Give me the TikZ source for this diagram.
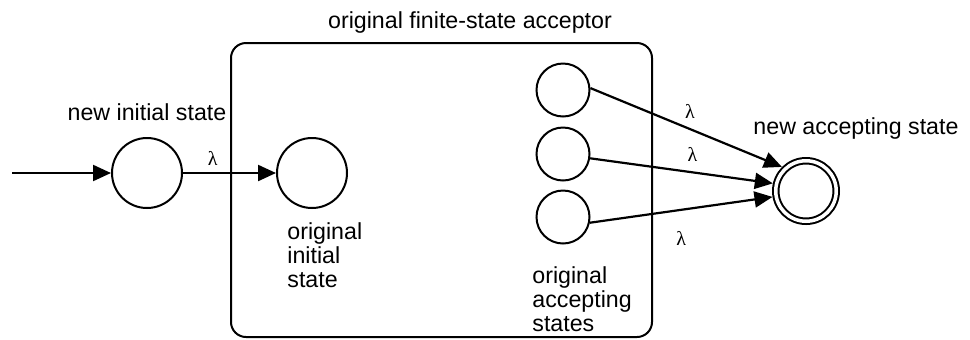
\documentclass[tikz,border=0pt]{standalone}
\usepackage{fontspec}
\setmainfont{Liberation Sans}
\newfontfamily\lamfont{Liberation Serif}
\usetikzlibrary{arrows.meta, positioning}

\begin{document}
\begin{tikzpicture}[x=0.5pt, y=-0.5pt,
    font=\fontsize{11.6pt}{12pt}\selectfont,
    statenode/.style={circle, draw, line width=1pt, minimum size=35pt, inner sep=0pt},
    smallnode/.style={statenode, minimum size=26.5pt},
    finalnode/.style={statenode, double, double distance=1.75pt,
                      minimum size=30.25pt, outer sep=1.9pt},
    trans/.style={-{Triangle[length=9pt, width=8pt]}, line width=1.1pt},
    lam/.style={inner sep=0pt, font=\lamfont\fontsize{10pt}{10pt}\selectfont},
    txt/.style={inner sep=0pt, text height=0.72em, text depth=0.22em}]
  \useasboundingbox (0,0) rectangle (970,339);

  % the original acceptor
  \node[draw, line width=1pt, rounded corners=7.5pt,
        minimum width=210.5pt, minimum height=147pt] (fsa) at (441.5,190) {};
  \node[txt] (fsatitle) at (470,23) {original finite-state acceptor};

  % states
  \coordinate (start) at (12,173);
  \node[statenode] (newinit) at (147,173) {};
  \node[statenode] (oldinit) at (312,173) {};
  \node[smallnode] (acc1) at (563,90) {};
  \node[smallnode] (acc2) at (563,154) {};
  \node[smallnode] (acc3) at (563,217) {};
  \node[finalnode] (newacc) at (806,191) {};

  % labels
  \node[txt, above=6pt of newinit] (newinitlabel) {new initial state};
  \node[txt, above=9pt of newacc, xshift=25pt] (newacclabel) {new accepting state};
  \node[inner sep=0pt, anchor=north west, align=left] (oldinitlabel) at (287,222)
    {original\\initial\\state};
  \node[inner sep=0pt, anchor=north west, align=left] (acclabel) at (532,266)
    {original\\accepting\\states};

  % transitions
  \draw[trans] (start) -- (newinit);
  \draw[trans] (newinit) -- node[lam, pos=0.32, above=3pt] {λ} (oldinit);
  \draw[trans] (acc1.4) -- node[lam, pos=0.52, above=4.5pt] {λ} (newacc.135);
  \draw[trans] (acc2.-9) -- node[lam, pos=0.56, above=5pt] {λ} (newacc.167);
  \draw[trans] (acc3.-12.5) -- node[lam, pos=0.5, below=10pt] {λ} (newacc.190);
\end{tikzpicture}
\end{document}
